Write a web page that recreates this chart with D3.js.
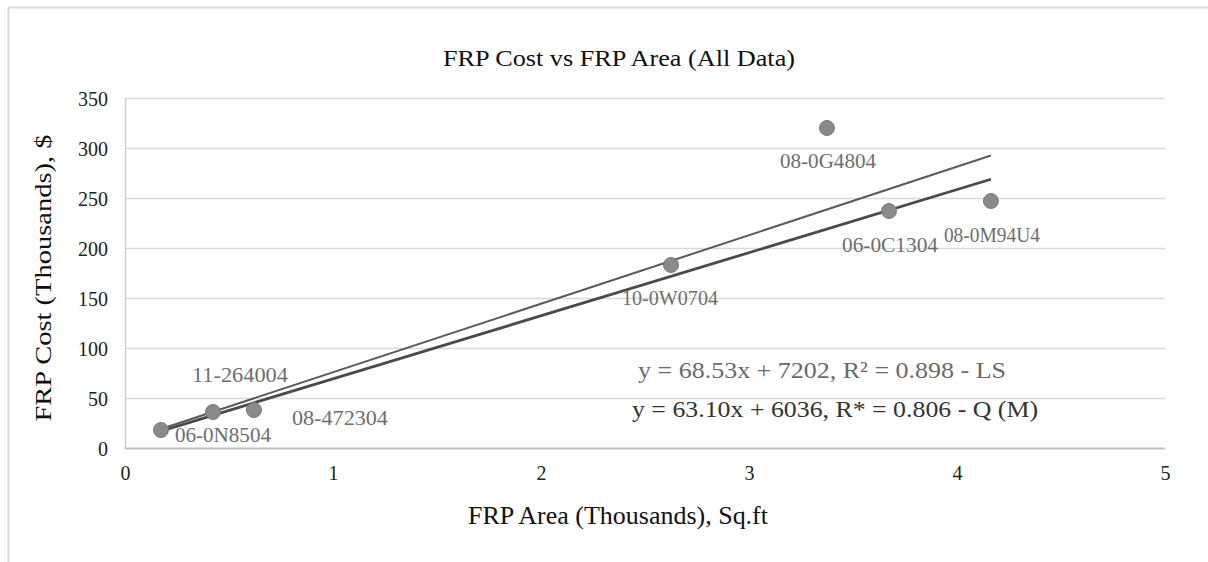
<!DOCTYPE html>
<html>
<head>
<meta charset="utf-8">
<script src="https://cdn.jsdelivr.net/npm/d3@7/dist/d3.min.js"></script>
<style>
  html, body { margin: 0; padding: 0; background: #fff; }
  svg { display: block; }
  text { font-family: "Liberation Serif", "Times New Roman", serif; }
</style>
</head>
<body>
<svg id="chart" width="1208" height="562"></svg>
<script>
// ---- data ----
const projectIds = ["06-0N8504", "11-264004", "08-472304", "10-0W0704", "08-0G4804", "06-0C1304", "08-0M94U4"];
const areaK = [0.173, 0.423, 0.62, 2.625, 3.375, 3.673, 4.163];
const costK = [18, 36, 38, 183, 320, 237, 247];
const xTicks = [0, 1, 2, 3, 4, 5];
const yTicks = [0, 50, 100, 150, 200, 250, 300, 350];
const fitLS = { slope: 68.53, intercept: 7.202, label: "y = 68.53x + 7202,  R² = 0.898 - LS" };
const fitQ = { slope: 63.10, intercept: 6.036, label: "y = 63.10x + 6036,  R* = 0.806 - Q (M)" };
// label offsets in px relative to point (layout only)
const labelOffsets = [[62, 7], [27, -35], [86, 10], [-1, 35], [1, 35], [1, 36], [1, 36]];

const svg = d3.select("#chart");
const W = 1208, H = 562;
const m = { left: 125, right: 1165, top: 98, bottom: 448 };

// frame
svg.append("path").attr("d", `M8.5,${H} L8.5,7.5 L${W},7.5`).attr("fill", "none").attr("stroke", "#d9d9d9").attr("stroke-width", 2);

const x = d3.scaleLinear().domain([0, 5]).range([m.left, m.right]);
const y = d3.scaleLinear().domain([0, 350]).range([m.bottom, m.top]);

// gridlines
svg.append("g").selectAll("line").data(yTicks.filter(d => d > 0)).join("line")
  .attr("x1", m.left).attr("x2", m.right)
  .attr("y1", d => y(d) + 0.5).attr("y2", d => y(d) + 0.5)
  .attr("stroke", "#d9d9d9").attr("stroke-width", 1.5);

// axes lines
svg.append("line").attr("x1", m.left + 0.5).attr("x2", m.left + 0.5).attr("y1", m.top).attr("y2", m.bottom)
  .attr("stroke", "#d0d0d0").attr("stroke-width", 1.5);
svg.append("line").attr("x1", m.left).attr("x2", m.right).attr("y1", m.bottom + 0.5).attr("y2", m.bottom + 0.5)
  .attr("stroke", "#c0c0c0").attr("stroke-width", 2);

// tick labels via axes
const yAxis = svg.append("g").attr("transform", `translate(${m.left - 17},0)`)
  .call(d3.axisLeft(y).tickValues(yTicks).tickSize(0).tickPadding(0));
yAxis.select(".domain").remove();
yAxis.selectAll("text")
  .style("font-size", "22px").style("font-family", "'Liberation Serif', serif")
  .style("fill", "#222").attr("dy", "0.35em")
  .attr("textLength", d => 10 * String(d).length).attr("lengthAdjust", "spacingAndGlyphs");

const xAxis = svg.append("g").attr("transform", `translate(0,${m.bottom + 15})`)
  .call(d3.axisBottom(x).tickValues(xTicks).tickFormat(d3.format("d")).tickSize(0).tickPadding(0));
xAxis.select(".domain").remove();
xAxis.selectAll("text")
  .style("font-size", "22px").style("font-family", "'Liberation Serif', serif")
  .style("fill", "#222").attr("dy", "0.75em")
  .attr("textLength", 10).attr("lengthAdjust", "spacingAndGlyphs");

// trend lines
const xMin = d3.min(areaK), xMax = d3.max(areaK);
[[fitLS, "#5a5a5a", 2], [fitQ, "#4a4a4a", 2.8]].forEach(([f, c, w]) => {
  svg.append("line")
    .attr("x1", x(xMin)).attr("y1", y(f.slope * xMin + f.intercept))
    .attr("x2", x(xMax)).attr("y2", y(f.slope * xMax + f.intercept))
    .attr("stroke", c).attr("stroke-width", w);
});

// points
const pts = areaK.map((a, i) => ({ a, c: costK[i], id: projectIds[i], off: labelOffsets[i] }));
svg.append("g").selectAll("circle").data(pts).join("circle")
  .attr("cx", d => x(d.a)).attr("cy", d => y(d.c)).attr("r", 7.5)
  .attr("fill", "#8a8a8a").attr("stroke", "#7a7a7a").attr("stroke-width", 1);

// point labels
svg.append("g").selectAll("text").data(pts).join("text")
  .attr("x", d => x(d.a) + d.off[0]).attr("y", d => y(d.c) + d.off[1])
  .attr("text-anchor", "middle").attr("dominant-baseline", "middle")
  .attr("font-size", 21).attr("fill", "#6e6e6e")
  .attr("textLength", 96).attr("lengthAdjust", "spacingAndGlyphs")
  .text(d => d.id);

// equations
svg.append("text").attr("x", 822).attr("y", 373).attr("text-anchor", "middle").attr("dominant-baseline", "middle")
  .attr("font-size", 23).attr("fill", "#6a6a6a").attr("textLength", 368).attr("lengthAdjust", "spacingAndGlyphs")
  .text(fitLS.label);
svg.append("text").attr("x", 835).attr("y", 411).attr("text-anchor", "middle").attr("dominant-baseline", "middle")
  .attr("font-size", 24).attr("fill", "#333").attr("textLength", 406).attr("lengthAdjust", "spacingAndGlyphs")
  .text(fitQ.label);

// title
svg.append("text").attr("x", 619).attr("y", 60).attr("text-anchor", "middle").attr("dominant-baseline", "middle")
  .attr("font-size", 24).attr("fill", "#111").attr("textLength", 352).attr("lengthAdjust", "spacingAndGlyphs")
  .text("FRP Cost vs FRP Area (All Data)");

// axis titles
svg.append("text").attr("x", 618).attr("y", 518).attr("text-anchor", "middle").attr("dominant-baseline", "middle")
  .attr("font-size", 25).attr("fill", "#111").attr("textLength", 300).attr("lengthAdjust", "spacingAndGlyphs")
  .text("FRP Area (Thousands), Sq.ft");
svg.append("text").attr("transform", "translate(45,278) rotate(-90)").attr("text-anchor", "middle").attr("dominant-baseline", "middle")
  .attr("font-size", 24).attr("fill", "#111").attr("textLength", 287).attr("lengthAdjust", "spacingAndGlyphs")
  .text("FRP Cost (Thousands), $");
</script>
</body>
</html>
